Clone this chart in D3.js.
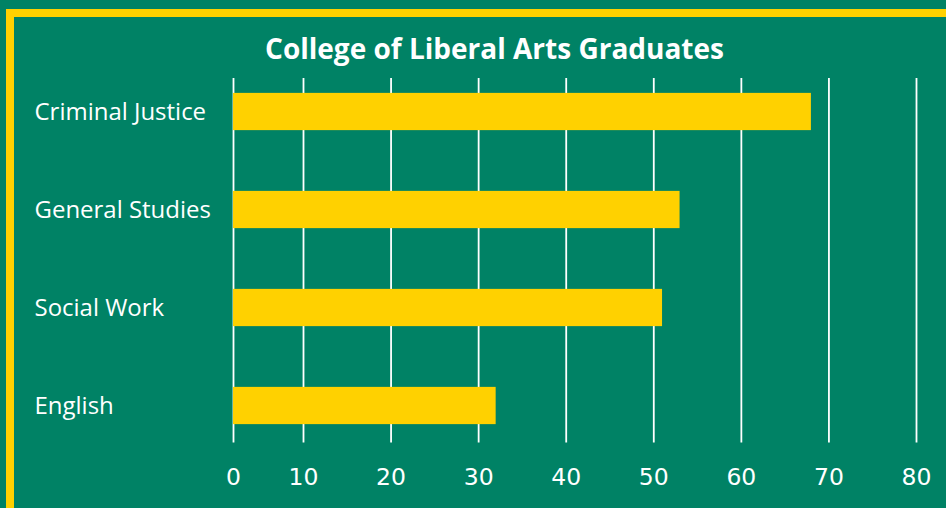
<!DOCTYPE html>
<html>
<head>
<meta charset="utf-8">
<script src="https://cdn.jsdelivr.net/npm/d3@7"></script>
<style>
  html, body { margin: 0; padding: 0; background: #008265; }
  svg { display: block; }
</style>
</head>
<body>
<svg id="chart" width="946" height="508"></svg>
<script>
// ---- data ----
const categories = ["Criminal Justice", "General Studies", "Social Work", "English"];
const graduates = [68, 53, 51, 32];
const tickValues = [0, 10, 20, 30, 40, 50, 60, 70, 80];
const title = "College of Liberal Arts Graduates";

// ---- styles ----
const GREEN = "#008265";
const YELLOW = "#FFD100";
const W = 946, H = 508;

const svg = d3.select("#chart");

svg.append("rect").attr("x", 0).attr("y", 0).attr("width", W).attr("height", H).attr("fill", GREEN);
// yellow frame (runs off the right and bottom edges)
svg.append("rect").attr("x", 10).attr("y", 13).attr("width", 1100).attr("height", 700)
  .attr("fill", "none").attr("stroke", YELLOW).attr("stroke-width", 8);

// scales
const x = d3.scaleLinear().domain([0, 10, 80]).range([233, 303, 916]);
const y = d3.scaleBand().domain(categories).range([62.5, 454.5]).paddingInner(0.62).paddingOuter(0.31);

const gridTop = 78, gridBottom = 442.5;

// gridlines via axis
const grid = svg.append("g").attr("transform", `translate(0,${gridBottom})`)
  .call(d3.axisTop(x).tickValues(tickValues).tickSize(gridBottom - gridTop).tickFormat(""));
grid.select(".domain").remove();
grid.selectAll(".tick line").attr("stroke", "#ffffff").attr("stroke-width", 1.8);

// bars
svg.append("g").selectAll("rect").data(categories).join("rect")
  .attr("x", x(0))
  .attr("y", d => y(d))
  .attr("width", (d, i) => x(graduates[i]) - x(0))
  .attr("height", y.bandwidth())
  .attr("fill", YELLOW);

// x tick labels
const xAxis = svg.append("g").attr("transform", `translate(0,${gridBottom})`)
  .call(d3.axisBottom(x).tickValues(tickValues).tickSize(0).tickPadding(0));
xAxis.select(".domain").remove();
xAxis.selectAll(".tick text")
  .attr("fill", "#ffffff")
  .attr("font-family", "'DejaVu Sans', sans-serif")
  .attr("font-size", 23.5)
  .attr("dy", null)
  .attr("y", 484.5 - gridBottom);

function fit(sel, targetWidth) {
  const node = sel.node();
  const s = parseFloat(sel.attr("font-size"));
  const w = node.getComputedTextLength();
  sel.attr("font-size", s * targetWidth / w);
}

// category labels
const labels = svg.append("g").selectAll("text").data(categories).join("text")
  .attr("x", 34.5)
  .attr("y", d => y(d) + y.bandwidth() / 2 + 8)
  .attr("fill", "#ffffff")
  .attr("font-family", "'Open Sans', sans-serif")
  .attr("font-size", 22)
  .text(d => d);
// fit size so the labels' total width matches the reference
{
  let total = 0;
  labels.each(function () { total += this.getComputedTextLength(); });
  labels.attr("font-size", 22 * 557 / total);
}

// title
const t = svg.append("text")
  .attr("x", 494.5).attr("y", 59.3)
  .attr("text-anchor", "middle")
  .attr("fill", "#ffffff")
  .attr("font-family", "'Open Sans', sans-serif")
  .attr("font-weight", 700)
  .attr("font-size", 26)
  .text(title);
fit(t, 459);
</script>
</body>
</html>
